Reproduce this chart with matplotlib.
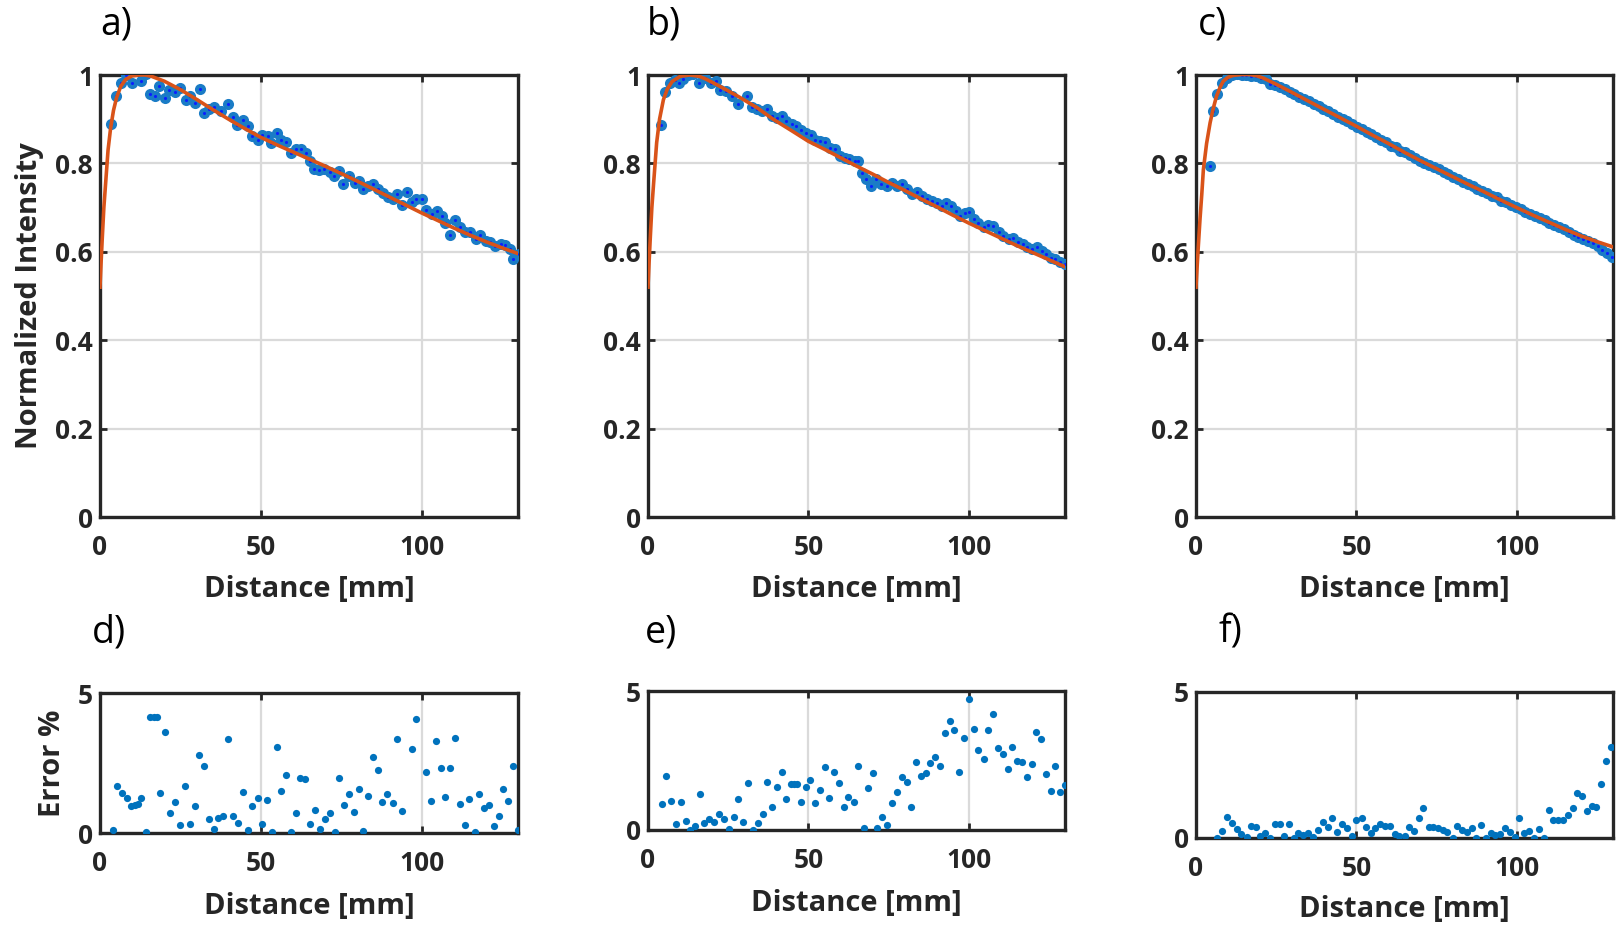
import matplotlib
matplotlib.use("Agg")
import matplotlib.pyplot as plt

plt.rcParams['font.family'] = ['Open Sans', 'DejaVu Sans']

# --- painel a) ---
a_x = [3.4, 4.9, 6.4, 8.1, 9.9, 12.7, 14.4, 15.4, 17.2, 18.5, 20.3, 21.4, 23.4, 25.0, 26.6, 28.1,
       29.5, 31.0, 32.3, 33.9, 35.4, 37.5, 39.9, 41.4, 42.7, 44.5, 46.1, 47.4, 49.0, 50.5, 52.1,
       53.1, 55.0, 56.3, 58.0, 59.4, 60.9, 62.5, 64.1, 65.3, 66.7, 68.2, 69.8, 71.4, 72.9, 74.3,
       75.7, 77.4, 79.2, 80.7, 81.8, 83.3, 84.9, 86.5, 88.0, 89.6, 91.1, 92.4, 94.0, 95.5, 96.9,
       98.4, 100.0, 101.4, 103.1, 104.7, 106.3, 107.3, 108.9, 110.5, 112.1, 113.6, 115.2, 116.8,
       118.3, 119.9, 121.4, 123.0, 124.6, 126.1, 127.5, 128.5, 130.2]
a_y = [0.890, 0.953, 0.982, 0.999, 0.983, 0.986, 1.003, 0.957, 0.953, 0.974, 0.948, 0.967, 0.962,
       0.971, 0.944, 0.952, 0.937, 0.968, 0.913, 0.922, 0.928, 0.918, 0.935, 0.905, 0.888, 0.899,
       0.884, 0.862, 0.854, 0.865, 0.863, 0.847, 0.869, 0.854, 0.848, 0.824, 0.832, 0.833, 0.824,
       0.805, 0.788, 0.786, 0.788, 0.780, 0.771, 0.783, 0.753, 0.771, 0.756, 0.760, 0.741, 0.749,
       0.753, 0.741, 0.734, 0.723, 0.719, 0.730, 0.707, 0.735, 0.713, 0.719, 0.720, 0.695, 0.685,
       0.692, 0.681, 0.666, 0.638, 0.672, 0.655, 0.644, 0.645, 0.629, 0.638, 0.625, 0.623, 0.612,
       0.617, 0.615, 0.606, 0.583, 0.595]
a_fit_x = [0, 0.3, 0.7, 1.2, 1.8, 2.5, 3.3, 4.2, 5.2, 6.5, 8, 10, 12, 14, 16, 20, 25, 30, 35, 40,
           45, 50, 55, 60, 65, 70, 75, 80, 85, 90, 95, 100, 105, 110, 115, 120, 125, 130]
a_fit_y = [0.52, 0.57, 0.63, 0.70, 0.76, 0.83, 0.88, 0.92, 0.95, 0.975, 0.99, 0.998, 1.0, 1.0,
           0.997, 0.986, 0.967, 0.945, 0.922, 0.900, 0.879, 0.859, 0.842, 0.826, 0.810, 0.794,
           0.777, 0.760, 0.742, 0.724, 0.706, 0.688, 0.671, 0.654, 0.638, 0.623, 0.609, 0.596]

# --- painel b) ---
b_x = [3.9, 5.3, 6.9, 8.4, 9.8, 11.0, 12.6, 14.1, 16.0, 17.8, 19.5, 21.2, 22.5, 24.3, 26.1, 28.0,
       31.0, 32.3, 33.9, 35.4, 37.2, 38.6, 40.1, 41.7, 43.0, 44.8, 46.2, 47.7, 49.3, 50.7, 52.1,
       53.6, 55.2, 56.8, 58.3, 59.9, 61.4, 62.8, 64.6, 65.6, 66.6, 68.0, 69.5, 71.1, 72.6, 74.4,
       76.0, 77.5, 79.1, 80.7, 82.2, 83.8, 85.3, 86.9, 88.5, 90.0, 91.6, 93.0, 94.4, 96.0, 97.3,
       98.9, 100.2, 101.5, 103.0, 104.6, 106.1, 107.7, 109.3, 110.8, 112.4, 113.7, 115.2, 116.8,
       118.3, 119.6, 121.2, 122.8, 124.1, 125.6, 126.9, 128.3, 130.0]
b_y = [0.886, 0.961, 0.982, 0.988, 0.983, 0.990, 1.001, 1.003, 0.982, 0.993, 0.983, 0.986, 0.967,
       0.963, 0.953, 0.935, 0.952, 0.928, 0.922, 0.918, 0.922, 0.907, 0.903, 0.907, 0.896, 0.890,
       0.884, 0.875, 0.869, 0.865, 0.854, 0.850, 0.848, 0.835, 0.833, 0.817, 0.813, 0.809, 0.805,
       0.805, 0.779, 0.764, 0.749, 0.764, 0.753, 0.750, 0.755, 0.750, 0.753, 0.741, 0.730, 0.735,
       0.726, 0.719, 0.715, 0.710, 0.704, 0.710, 0.704, 0.692, 0.681, 0.687, 0.690, 0.675, 0.666,
       0.655, 0.660, 0.659, 0.644, 0.635, 0.629, 0.632, 0.623, 0.617, 0.610, 0.607, 0.610, 0.602,
       0.595, 0.585, 0.583, 0.577, 0.572]
b_fit_x = [0, 0.3, 0.7, 1.2, 1.8, 2.7, 3.6, 4.8, 6, 7.5, 10, 13, 16, 18, 22, 28, 34, 39, 45, 50,
           55, 60, 65, 70, 75, 80, 85, 90, 95, 100, 105, 110, 115, 120, 125, 130]
b_fit_y = [0.52, 0.57, 0.63, 0.70, 0.76, 0.847, 0.90, 0.944, 0.968, 0.985, 0.997, 1.0, 0.997,
           0.991, 0.976, 0.952, 0.926, 0.900, 0.873, 0.850, 0.832, 0.813, 0.794, 0.776, 0.757,
           0.739, 0.720, 0.702, 0.683, 0.665, 0.648, 0.631, 0.614, 0.598, 0.582, 0.566]

# --- painel c) ---
c_x = [4.4, 5.4, 6.7, 8.0, 9.6, 11.1, 12.7, 14.2, 15.7, 17.2, 18.7, 20.2, 21.7, 23.2, 24.7, 26.2,
       27.7, 29.2, 30.7, 32.2, 33.7, 35.2, 36.7, 38.2, 39.7, 41.2, 42.7, 44.2, 45.7, 47.2, 48.7,
       50.2, 51.7, 53.2, 54.7, 56.2, 57.7, 59.2, 60.7, 62.2, 63.7, 65.2, 66.7, 68.2, 69.7, 71.2,
       72.7, 74.2, 75.7, 77.2, 78.7, 80.2, 81.7, 83.2, 84.7, 86.2, 87.7, 89.2, 90.7, 92.2, 93.7,
       95.2, 96.7, 98.2, 99.7, 101.2, 102.7, 104.2, 105.7, 107.2, 108.7, 110.2, 111.7, 113.2,
       114.7, 116.2, 117.7, 119.2, 120.7, 122.2, 123.7, 125.2, 126.7, 128.2, 129.7]
c_y = [0.795, 0.918, 0.956, 0.982, 0.993, 1.000, 1.003, 1.001, 0.999, 0.998, 0.998, 0.994, 0.990,
       0.980, 0.978, 0.973, 0.968, 0.962, 0.958, 0.951, 0.946, 0.941, 0.934, 0.930, 0.922, 0.918,
       0.911, 0.906, 0.900, 0.895, 0.889, 0.883, 0.878, 0.871, 0.866, 0.860, 0.854, 0.849, 0.840,
       0.836, 0.829, 0.825, 0.818, 0.812, 0.806, 0.800, 0.797, 0.791, 0.787, 0.780, 0.776, 0.769,
       0.764, 0.759, 0.753, 0.749, 0.743, 0.737, 0.733, 0.727, 0.723, 0.716, 0.712, 0.705, 0.701,
       0.697, 0.691, 0.686, 0.680, 0.676, 0.671, 0.666, 0.660, 0.655, 0.651, 0.645, 0.638, 0.633,
       0.629, 0.625, 0.619, 0.613, 0.605, 0.597, 0.588]
c_fit_x = [0, 0.3, 0.7, 1.25, 1.8, 2.3, 3.3, 4.4, 5.4, 6.4, 7.5, 8.5, 10, 11.6, 14, 16.8, 19, 21,
           25, 29.3, 35, 40, 45, 50, 55, 60, 65, 70, 75, 80, 85, 90, 95, 100, 105, 110, 115, 120,
           125, 130]
c_fit_y = [0.52, 0.56, 0.61, 0.674, 0.73, 0.786, 0.845, 0.892, 0.925, 0.952, 0.972, 0.986, 0.995,
           0.999, 1.001, 1.001, 0.998, 0.993, 0.979, 0.963, 0.941, 0.922, 0.903, 0.884, 0.864,
           0.845, 0.825, 0.806, 0.788, 0.770, 0.752, 0.735, 0.717, 0.700, 0.683, 0.667, 0.651,
           0.636, 0.623, 0.611]

# --- erros d), e), f) ---
d_x = [3.9, 5.4, 6.8, 8.3, 9.7, 10.9, 11.7, 12.8, 14.4, 15.6, 16.7, 17.7, 18.8, 20.3, 21.9, 23.4,
       24.8, 26.5, 27.9, 29.4, 30.9, 32.4, 33.9, 35.4, 36.8, 38.3, 39.9, 41.4, 43.0, 44.5, 46.0,
       47.4, 49.0, 50.4, 52.0, 53.4, 54.9, 56.4, 57.9, 59.4, 60.9, 62.3, 63.9, 65.3, 66.9, 68.5,
       69.9, 71.5, 73.0, 74.4, 75.8, 77.4, 78.9, 80.4, 81.9, 83.4, 84.9, 86.5, 87.8, 89.4, 91.0,
       92.4, 94.0, 96.9, 98.4, 101.4, 102.9, 104.4, 106.0, 107.4, 108.9, 110.5, 111.9, 113.4,
       114.9, 116.5, 117.9, 119.4, 121.0, 122.4, 124.0, 125.4, 127.0, 128.4, 129.9]
d_y = [0.09, 1.67, 1.44, 1.24, 0.96, 1.00, 1.04, 1.26, 0.02, 4.14, 4.14, 4.14, 1.44, 3.61, 0.71,
       1.12, 0.27, 1.67, 0.33, 0.98, 2.79, 2.39, 0.51, 0.14, 0.53, 0.59, 3.35, 0.61, 0.35, 1.47,
       0.12, 0.98, 1.24, 0.33, 1.18, 0.02, 3.08, 1.51, 2.08, 0.04, 0.71, 1.98, 1.92, 0.33, 0.82,
       0.14, 0.51, 0.71, 0.04, 1.98, 1.00, 1.38, 0.76, 1.56, 0.07, 1.33, 2.73, 2.24, 1.12, 1.41,
       1.06, 3.35, 0.79, 3.00, 4.08, 2.18, 1.15, 3.29, 2.33, 1.29, 2.32, 3.38, 1.02, 0.27, 1.21,
       0.02, 1.41, 0.91, 1.00, 0.24, 0.62, 1.56, 1.15, 2.41, 0.12]

e_x = [4.3, 5.6, 7.3, 8.6, 10.2, 11.7, 13.1, 14.7, 16.2, 17.6, 19.1, 20.6, 22.1, 23.7, 25.2, 26.7,
       28.2, 29.7, 31.1, 32.6, 34.2, 35.7, 37.1, 38.7, 40.1, 41.7, 43.0, 44.5, 45.5, 46.4, 47.6,
       49.2, 50.6, 52.1, 53.6, 55.2, 56.5, 58.1, 59.6, 61.1, 62.5, 64.1, 65.6, 67.2, 68.6, 70.1,
       71.5, 73.1, 74.5, 76.1, 77.5, 79.1, 80.6, 82.0, 83.5, 85.0, 86.6, 88.0, 89.5, 91.1, 92.5,
       94.0, 95.5, 97.0, 98.5, 100.1, 101.6, 103.0, 104.6, 106.0, 107.6, 109.0, 110.6, 112.1,
       113.6, 115.1, 116.6, 118.1, 119.6, 121.1, 122.6, 124.1, 125.6, 127.0, 128.5, 130.0]
e_y = [0.92, 1.95, 1.06, 0.23, 1.00, 0.34, 0.00, 0.14, 1.30, 0.24, 0.38, 0.28, 0.58, 0.38, 0.04,
       0.48, 1.13, 0.28, 1.70, 0.00, 0.24, 0.58, 1.74, 0.84, 1.53, 2.07, 1.12, 1.65, 1.65, 1.65,
       1.00, 1.53, 1.80, 0.96, 1.44, 2.28, 1.14, 2.10, 1.70, 0.84, 1.20, 1.02, 2.30, 0.06, 1.50,
       2.04, 0.06, 0.48, 0.18, 0.96, 1.36, 1.92, 1.74, 0.84, 2.46, 1.95, 2.06, 2.42, 2.64, 2.30,
       3.50, 3.92, 3.60, 2.07, 3.30, 4.70, 3.62, 2.88, 2.55, 3.60, 4.16, 2.94, 2.72, 2.19, 3.00,
       2.48, 2.43, 1.92, 2.36, 3.51, 3.26, 2.00, 1.40, 2.31, 1.38, 1.62]

f_x = [6.7, 8.2, 9.6, 11.1, 12.7, 14.0, 15.8, 17.0, 18.6, 20.0, 21.5, 23.1, 24.6, 26.2, 27.5, 29.0,
       30.6, 31.9, 33.5, 35.0, 36.6, 37.9, 39.5, 41.1, 42.5, 44.0, 45.5, 47.0, 48.5, 49.9, 51.6,
       53.0, 54.5, 55.9, 57.4, 58.9, 60.5, 62.0, 63.4, 65.0, 66.4, 68.0, 69.4, 70.9, 72.5, 73.9,
       75.4, 76.9, 78.4, 80.0, 81.4, 82.9, 84.4, 85.9, 87.3, 88.9, 90.3, 91.9, 93.3, 94.8, 96.4,
       97.8, 99.4, 100.8, 102.4, 103.9, 105.4, 106.9, 108.4, 109.9, 111.3, 112.9, 114.3, 115.9,
       117.4, 118.8, 120.4, 121.8, 123.3, 124.8, 126.3, 127.9, 129.3]
f_y = [0.00, 0.25, 0.73, 0.53, 0.30, 0.13, 0.02, 0.41, 0.37, 0.07, 0.16, 0.00, 0.48, 0.48, 0.07,
       0.48, 0.00, 0.16, 0.10, 0.16, 0.02, 0.27, 0.56, 0.39, 0.67, 0.19, 0.48, 0.35, 0.07, 0.62,
       0.67, 0.39, 0.18, 0.35, 0.47, 0.42, 0.42, 0.13, 0.07, 0.07, 0.39, 0.24, 0.67, 1.04, 0.39,
       0.39, 0.35, 0.27, 0.19, 0.01, 0.42, 0.27, 0.19, 0.35, 0.00, 0.45, 0.00, 0.18, 0.10, 0.13,
       0.33, 0.19, 0.02, 0.67, 0.16, 0.25, 0.00, 0.31, 0.01, 0.96, 0.62, 0.62, 0.62, 0.79, 1.04,
       1.55, 1.44, 0.92, 1.10, 1.05, 1.85, 2.65, 3.13]

top_ticks = [0, 0.2, 0.4, 0.6, 0.8, 1]
top_tick_labels = ['0', '0.2', '0.4', '0.6', '0.8', '1']
x_ticks = [0, 50, 100]
err_ticks = [0, 5]

azul = '#0072BD'
laranja = '#D95319'
moldura = '#262626'

W, H = 1624, 931
fig = plt.figure(figsize=(W / 100, H / 100), dpi=100)


def eixo(x0, x1, y_top, y_bot):
    return fig.add_axes([x0 / W, 1 - y_bot / H, (x1 - x0) / W, (y_bot - y_top) / H])


def estilo(ax):
    ax.set_xlim(0, 130)
    ax.set_xticks(x_ticks)
    ax.grid(True, color='#dadada', linewidth=1.6)
    ax.set_axisbelow(True)
    for s in ax.spines.values():
        s.set_linewidth(2.4)
        s.set_color(moldura)
    ax.tick_params(direction='in', length=5, width=2, colors=moldura, top=True, right=True,
                   labelsize=19)
    ax.tick_params(axis='x', pad=12)
    ax.tick_params(axis='y', pad=5)
    for t in ax.get_xticklabels() + ax.get_yticklabels():
        t.set_fontweight('bold')
    ax.set_xlabel('Distance [mm]', fontsize=21, fontweight='bold', color=moldura, labelpad=10)


topo = [(100, 518, a_x, a_y, a_fit_x, a_fit_y, 'a)'),
        (648, 1065, b_x, b_y, b_fit_x, b_fit_y, 'b)'),
        (1196, 1613, c_x, c_y, c_fit_x, c_fit_y, 'c)')]
for i, (x0, x1, px, py, fx, fy, letra) in enumerate(topo):
    ax = eixo(x0, x1, 75, 517)
    ax.plot(px, py, 'o', color='#1a7cc6', ms=8, mew=0, zorder=3)
    ax.plot(px, py, '.', color='#0a1fff', ms=2.5, zorder=4)
    ax.plot(fx, fy, '-', color=laranja, lw=2.6, zorder=5)
    ax.set_ylim(0, 1)
    ax.set_yticks(top_ticks)
    ax.set_yticklabels(top_tick_labels)
    estilo(ax)
    if i == 0:
        ax.set_ylabel('Normalized Intensity', fontsize=21, fontweight='bold', color=moldura,
                      labelpad=8)
    fig.text((x0 + 16) / W, 1 - 24 / H, letra, fontsize=27, ha='center', va='center')

baixo = [(100, 518, 693, 833, d_x, d_y, 'd)', 109, 11),
         (648, 1065, 691, 830, e_x, e_y, 'e)', 661, 11),
         (1196, 1613, 692, 838, f_x, f_y, 'f)', 1230, 9.5)]
for i, (x0, x1, yt, yb, px, py, letra, lx, lp) in enumerate(baixo):
    ax = eixo(x0, x1, yt, yb)
    ax.plot(px, py, 'o', color=azul, ms=5.2, mew=0, zorder=3)
    ax.set_ylim(0, 5)
    ax.set_yticks(err_ticks)
    ax.set_yticklabels(['0', '5'])
    estilo(ax)
    ax.xaxis.labelpad = lp
    if i == 0:
        ax.set_ylabel('Error %', fontsize=21, fontweight='bold', color=moldura, labelpad=8)
    fig.text(lx / W, 1 - 632 / H, letra, fontsize=27, ha='center', va='center')

fig.savefig('out.png', dpi=100)
